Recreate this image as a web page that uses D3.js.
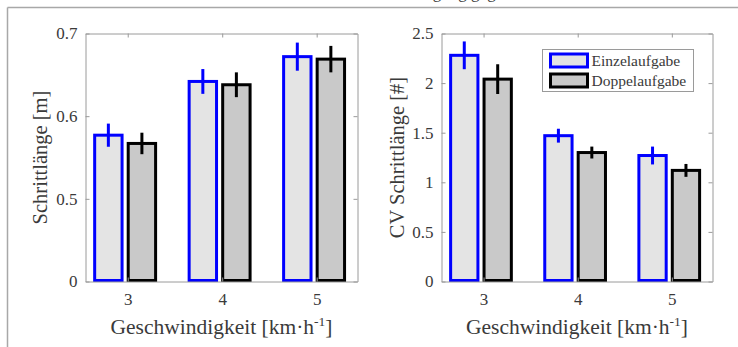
<!DOCTYPE html>
<html>
<head>
<meta charset="utf-8">
<script src="https://cdn.jsdelivr.net/npm/d3@7"></script>
<style>
  html, body { margin: 0; padding: 0; background: #fff; }
  svg { display: block; }
  svg text { font-family: "Liberation Serif", "Times New Roman", Times, "DejaVu Serif", serif; }
</style>
</head>
<body>
<svg id="chart" width="738" height="347"></svg>
<script>
// Walking speeds (km/h)
const speeds = [3, 4, 5];
const seriesNames = ["Einzelaufgabe", "Doppelaufgabe"];

// Step length [m]: means and error bars
const stepLenSingle = [0.577, 0.642, 0.672];
const stepLenSingleErr = [0.014, 0.015, 0.017];
const stepLenDual = [0.567, 0.638, 0.669];
const stepLenDualErr = [0.013, 0.015, 0.016];

// Coefficient of variation of step length [#]
const cvSingle = [2.28, 1.47, 1.27];
const cvSingleErr = [0.14, 0.07, 0.09];
const cvDual = [2.04, 1.30, 1.12];
const cvDualErr = [0.15, 0.06, 0.065];

// Tick values and their labels
const stepLenTicks = [0.4, 0.5, 0.6, 0.7];
const stepLenTickLabels = ["0", "0.5", "0.6", "0.7"];
const cvTicks = [0, 0.5, 1, 1.5, 2, 2.5];
const cvTickLabels = ["0", "0.5", "1", "1.5", "2", "2.5"];

const FONT = "'Liberation Serif', 'Times New Roman', Times, 'DejaVu Serif', serif";
const svg = d3.select("#chart").attr("font-family", FONT);
const axisGray = "#9a9a9a";
const textGray = "#3a3a3a";

// figure frame
svg.append("line").attr("x1", 7.5).attr("y1", 7.5).attr("x2", 738).attr("y2", 7.5)
  .attr("stroke", "#a8a8a8").attr("stroke-width", 1.5);
svg.append("line").attr("x1", 7.5).attr("y1", 7.5).attr("x2", 7.5).attr("y2", 347)
  .attr("stroke", "#a8a8a8").attr("stroke-width", 1.5);

// page heading, mostly above the visible area
svg.append("text").attr("x", 452).attr("y", -2.5).attr("text-anchor", "middle")
  .attr("font-family", FONT).attr("font-size", 17).attr("fill", textGray).text("Bedingung gegen");

const series = [
  { fill: "#e4e4e4", stroke: "#0000ff", offset: -0.205 },
  { fill: "#c9c9c9", stroke: "#000000", offset: 0.15 }
];

function panel(opts) {
  const { left, right, top, bottom, yDomain, ticks, tickLabels, data, errs, yLabel, yLabelX } = opts;
  const x = d3.scaleLinear().domain([2.553, 5.432]).range([left, right]);
  const y = d3.scaleLinear().domain(yDomain).range([bottom, top]);
  const g = svg.append("g");
  const barW = x(0.29) - x(0);

  // bars with error bars
  data.forEach((vals, si) => {
    const s = series[si];
    const gs = g.append("g");
    gs.selectAll("rect").data(vals).join("rect")
      .attr("x", (d, i) => x(speeds[i] + s.offset) - barW / 2)
      .attr("y", d => y(d))
      .attr("width", barW)
      .attr("height", d => y(yDomain[0]) - y(d) - 1)
      .attr("fill", s.fill)
      .attr("stroke", s.stroke)
      .attr("stroke-width", 3);
    gs.selectAll("line").data(vals).join("line")
      .attr("x1", (d, i) => x(speeds[i] + s.offset))
      .attr("x2", (d, i) => x(speeds[i] + s.offset))
      .attr("y1", (d, i) => y(d + errs[si][i]))
      .attr("y2", (d, i) => y(d - errs[si][i]))
      .attr("stroke", s.stroke)
      .attr("stroke-width", 3);
  });

  // axes box with inward ticks on all sides
  const tickLen = 4;
  const bottomAxis = d3.axisBottom(x).tickValues(speeds).tickSizeInner(-tickLen).tickSizeOuter(0)
    .tickPadding(11).tickFormat(d3.format("d"));
  const topAxis = d3.axisTop(x).tickValues(speeds).tickSizeInner(-tickLen).tickSizeOuter(0).tickFormat("");
  const leftAxis = d3.axisLeft(y).tickValues(ticks).tickSizeInner(-tickLen).tickSizeOuter(0)
    .tickPadding(8).tickFormat((d, i) => tickLabels[i]);
  const rightAxis = d3.axisRight(y).tickValues(ticks).tickSizeInner(-tickLen).tickSizeOuter(0).tickFormat("");

  const axes = [
    [bottomAxis, `translate(0,${bottom})`],
    [topAxis, `translate(0,${top})`],
    [leftAxis, `translate(${left},0)`],
    [rightAxis, `translate(${right},0)`]
  ];
  axes.forEach(([ax, tr]) => {
    const a = g.append("g").attr("transform", tr).call(ax).attr("font-family", FONT);
    a.select(".domain").attr("stroke", axisGray).attr("stroke-width", 1);
    a.selectAll(".tick line").attr("stroke", axisGray);
    a.selectAll(".tick text").attr("font-family", FONT).attr("font-size", 17)
      .attr("fill", textGray);
  });

  // y axis title
  svg.append("text")
    .attr("transform", `translate(${yLabelX},${(top + bottom) / 2}) rotate(-90)`)
    .attr("text-anchor", "middle").attr("dominant-baseline", "central")
    .attr("font-family", FONT).attr("font-size", 20.5).attr("fill", textGray).text(yLabel);

  // x axis title
  const xt = svg.append("text")
    .attr("x", (left + right) / 2).attr("y", 334)
    .attr("text-anchor", "middle").attr("font-family", FONT)
    .attr("font-size", 21.5).attr("fill", textGray);
  xt.append("tspan").text("Geschwindigkeit [km·h");
  xt.append("tspan").attr("dy", -8).attr("font-size", 13.5).text("-1");
  xt.append("tspan").attr("dy", 8).text("]");

  return { x, y };
}

panel({
  left: 85.5, right: 357.5, top: 33.5, bottom: 281.5,
  yDomain: [0.4, 0.7], ticks: stepLenTicks, tickLabels: stepLenTickLabels,
  data: [stepLenSingle, stepLenDual], errs: [stepLenSingleErr, stepLenDualErr],
  yLabel: "Schrittlänge [m]", yLabelX: 40
});

panel({
  left: 441.5, right: 712.5, top: 33.5, bottom: 281.5,
  yDomain: [0, 2.5], ticks: cvTicks, tickLabels: cvTickLabels,
  data: [cvSingle, cvDual], errs: [cvSingleErr, cvDualErr],
  yLabel: "CV Schrittlänge [#]", yLabelX: 397
});

// legend
const lg = svg.append("g").attr("transform", "translate(542.5,49.5)");
lg.append("rect").attr("width", 151).attr("height", 42)
  .attr("fill", "#fff").attr("stroke", axisGray).attr("stroke-width", 1);
seriesNames.forEach((name, i) => {
  const s = series[i];
  lg.append("rect").attr("x", 8).attr("y", 4.5 + i * 20).attr("width", 37).attr("height", 13)
    .attr("fill", s.fill).attr("stroke", s.stroke).attr("stroke-width", 3);
  lg.append("text").attr("x", 49).attr("y", 16 + i * 20).attr("font-family", FONT)
    .attr("font-size", 15.5).attr("fill", textGray).text(name);
});
</script>
</body>
</html>
